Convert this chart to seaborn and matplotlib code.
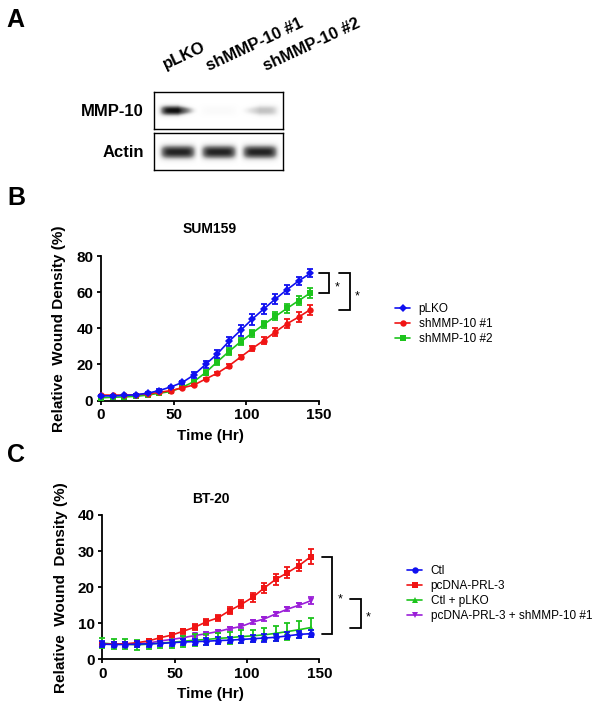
import numpy as np
import pandas as pd
import matplotlib
matplotlib.use("Agg")
import matplotlib.pyplot as plt
from matplotlib.lines import Line2D
import seaborn as sns

# ---------------- data ----------------
lanes = ["pLKO", "shMMP-10 #1", "shMMP-10 #2"]
mmp10_band = [0.95, 0.04, 0.35]
actin_band = [0.88, 0.88, 0.88]

time_hr = [0, 8, 16, 24, 32, 40, 48, 56, 64, 72, 80, 88, 96, 104, 112, 120, 128, 136, 144]

# panel B - SUM159
sum159_plko = [2.5, 2.6, 2.8, 3.2, 4.0, 5.5, 7.5, 10.0, 14.2, 20.0, 25.8, 32.7, 38.8, 45.0, 50.7, 56.2, 61.4, 66.2, 70.4]
sum159_plko_err = [0.5, 0.5, 0.5, 0.5, 0.6, 0.7, 0.8, 1.0, 1.5, 2.0, 2.3, 2.7, 3.0, 3.0, 3.0, 2.8, 2.6, 2.4, 2.2]
sum159_sh1 = [3.0, 3.0, 3.0, 3.2, 3.6, 4.5, 5.5, 7.0, 8.6, 11.9, 15.1, 19.2, 24.0, 28.8, 33.2, 38.0, 42.5, 46.2, 50.3]
sum159_sh1_err = [0.3, 0.3, 0.3, 0.3, 0.3, 0.4, 0.4, 0.5, 0.6, 0.7, 0.8, 1.0, 1.2, 1.5, 1.8, 2.2, 2.5, 2.6, 2.8]
sum159_sh2 = [1.5, 1.8, 2.0, 2.3, 3.0, 4.0, 5.0, 7.3, 10.5, 15.5, 21.4, 27.1, 32.5, 37.3, 42.1, 46.6, 51.0, 55.3, 59.5]
sum159_sh2_err = [0.3, 0.3, 0.3, 0.3, 0.4, 0.5, 0.6, 0.8, 1.0, 1.2, 1.5, 1.7, 1.9, 2.0, 2.1, 2.3, 2.5, 2.6, 2.8]

# panel C - BT-20
bt20_ctl = [4.2, 4.1, 4.1, 4.2, 4.3, 4.4, 4.6, 4.8, 4.9, 5.0, 5.2, 5.3, 5.5, 5.7, 5.9, 6.1, 6.5, 6.9, 7.1]
bt20_ctl_err = [0.8, 0.8, 0.8, 0.8, 0.8, 0.8, 0.8, 0.8, 0.8, 0.9, 0.9, 0.9, 0.9, 0.9, 1.0, 1.0, 1.0, 1.0, 1.0]
bt20_prl3 = [4.3, 4.2, 4.3, 4.6, 5.1, 6.0, 6.7, 7.8, 8.9, 10.4, 11.5, 13.5, 15.2, 17.2, 19.8, 22.2, 24.0, 26.0, 28.4]
bt20_prl3_err = [0.5, 0.5, 0.5, 0.5, 0.5, 0.5, 0.6, 0.7, 0.8, 0.8, 0.9, 1.0, 1.1, 1.2, 1.3, 1.5, 1.6, 1.5, 2.1]
bt20_ctl_plko = [4.5, 4.2, 4.2, 4.0, 4.2, 4.5, 4.7, 5.0, 5.3, 5.5, 5.8, 6.0, 6.3, 6.5, 6.8, 7.2, 7.7, 8.2, 8.8]
bt20_ctl_plko_err = [1.5, 1.4, 1.4, 1.4, 1.4, 1.5, 1.5, 1.5, 1.6, 1.6, 1.6, 1.7, 1.7, 1.7, 1.8, 2.0, 2.3, 2.4, 2.7]
bt20_prl3_sh1 = [4.3, 4.2, 4.2, 4.3, 4.5, 5.1, 5.5, 6.0, 6.6, 7.1, 7.7, 8.5, 9.1, 10.3, 11.2, 12.6, 13.9, 15.0, 16.2]
bt20_prl3_sh1_err = [0.4, 0.4, 0.4, 0.4, 0.4, 0.4, 0.4, 0.4, 0.4, 0.4, 0.4, 0.4, 0.5, 0.5, 0.5, 0.5, 0.6, 0.6, 1.0]

BLUE, RED, GREEN, PURPLE = "#1010F0", "#F01414", "#1CC41C", "#9B1FD8"

W, H = 604, 717


def rect(left, top, right, bottom):
    """pixel box (from top-left) -> figure fraction rect"""
    return [left / W, 1 - bottom / H, (right - left) / W, (bottom - top) / H]


def fx(x):
    return x / W


def fy(y):
    return 1 - y / H


sns.set_theme(style="ticks")
plt.rcParams["font.family"] = ["Liberation Sans", "DejaVu Sans"]
plt.rcParams.update({
    "axes.edgecolor": "black",
    "xtick.color": "black",
    "ytick.color": "black",
    "text.color": "black",
    "axes.labelcolor": "black",
})

fig = plt.figure(figsize=(W / 100, H / 100), dpi=100)
fig.patch.set_facecolor("white")

# ---------------- panel A: blot ----------------
LANE_X = [24, 65, 106]
LANE_W = 35


def blot_image(intensity, skew, cy, half_h, width=129, height=37, scale=4):
    xs = (np.arange(width * scale) + 0.5) / scale
    ys = (np.arange(height * scale) + 0.5) / scale
    X, Y = np.meshgrid(xs, ys)
    img = np.zeros_like(X)
    for cx, a, s in zip(LANE_X, intensity, skew):
        u = (X - cx) / (LANE_W / 2)
        wgt = np.clip(1 + s * u, 0.05, 1.0)
        hor = np.exp(-np.abs(u) ** 6)
        thick = half_h * (0.4 + 0.6 * wgt)
        ver = np.exp(-np.abs((Y - cy) / thick) ** 2.5)
        img = np.maximum(img, a * hor * ver * wgt)
    return img


blots = [
    ("MMP-10", mmp10_band, [-0.75, 0.0, 0.8], 19.5, 5.0, (154, 92, 283, 128.5)),
    ("Actin", actin_band, [0.0, 0.0, 0.0], 19.0, 7.0, (154, 133, 283, 170)),
]
for name, vals, skew, cy, hh, box in blots:
    bax = fig.add_axes(rect(*box))
    bax.imshow(blot_image(vals, skew, cy, hh), cmap="Greys", vmin=0, vmax=1,
               aspect="auto", interpolation="bilinear", extent=(0, 129, 37, 0))
    bax.set_xticks([])
    bax.set_yticks([])
    for sp in bax.spines.values():
        sp.set_visible(True)
        sp.set_linewidth(1.0)
        sp.set_color("black")
    fig.text(fx(144), fy((box[1] + box[3]) / 2 + 1), name, ha="right", va="center",
             fontsize=12, fontweight="bold")

lane_anchor = [(166, 69), (209, 71), (266, 71)]
for lab, (x, y) in zip(lanes, lane_anchor):
    fig.text(fx(x), fy(y), lab, rotation=25, rotation_mode="anchor", ha="left",
             va="baseline", fontsize=12, fontweight="bold")

# panel letters
for letter, (x, y) in zip("ABC", [(6, 26.7), (7, 205), (7, 462)]):
    fig.text(fx(x), fy(y), letter, fontsize=18, fontweight="bold", ha="left", va="baseline")


# ---------------- panels B and C ----------------
def draw_panel(ax, series, ymax, yticks, title, title_pad, ylabel):
    rows = []
    for label, vals, errs, color, marker, ms in series:
        for t, v in zip(time_hr, vals):
            rows.append({"time": t, "value": v, "group": label})
    df = pd.DataFrame(rows)
    order = [s[0] for s in series]
    sns.lineplot(data=df, x="time", y="value", hue="group", style="group",
                 hue_order=order, style_order=order,
                 palette={s[0]: s[3] for s in series},
                 markers={s[0]: s[4] for s in series}, dashes=False,
                 errorbar=None, legend=False, linewidth=1.2, markersize=5,
                 markeredgewidth=0, ax=ax)
    n = len(series)
    for i, line in enumerate(ax.lines):
        line.set_zorder(10 + (n - i) * 2)
        line.set_clip_on(False)
        line.set_markersize(series[i][5])
    for i, (label, vals, errs, color, marker, ms) in enumerate(series):
        eb = ax.errorbar(time_hr, vals, yerr=errs, fmt="none", ecolor=color,
                         elinewidth=1.3, capsize=2.3, capthick=1.3,
                         zorder=9 + (n - i) * 2)
        for art in list(eb.lines[1]) + list(eb.lines[2]):
            art.set_clip_on(False)
    ax.set_xlim(0, 150)
    ax.set_ylim(0, ymax)
    ax.set_xticks([0, 50, 100, 150])
    ax.set_yticks(yticks)
    sns.despine(ax=ax)
    for sp in ("left", "bottom"):
        ax.spines[sp].set_linewidth(1.3)
    ax.tick_params(length=3, width=1.3, labelsize=11, pad=2.5)
    for lbl in ax.get_xticklabels() + ax.get_yticklabels():
        lbl.set_fontweight("bold")
    ax.set_xlabel("Time (Hr)", fontsize=11, fontweight="bold")
    ax.set_ylabel(ylabel, fontsize=11, fontweight="bold")
    ax.xaxis.set_label_coords(0.5, -0.195)
    ax.yaxis.set_label_coords(-0.16, 0.5)
    ax.set_title(title, fontsize=10, fontweight="bold", pad=title_pad)
    ax.set_facecolor("white")


def bracket(ax, y_top, y_bot, x0, x1):
    ax.plot([x0, x1, x1, x0], [y_top, y_top, y_bot, y_bot], color="black",
            lw=1.3, clip_on=False, solid_joinstyle="miter")
    ax.annotate("*", xy=(x1, (y_top + y_bot) / 2), xytext=(5.5, -5.5),
                textcoords="offset points", ha="center", va="baseline",
                fontsize=9, annotation_clip=False)


def add_legend(series, x, y):
    handles = [Line2D([], [], color=c, marker=m, markersize=ms, markeredgewidth=0, lw=1.2)
               for _, _, _, c, m, ms in series]
    fig.legend(handles, [s[0] for s in series], loc="upper left",
               bbox_to_anchor=(fx(x), fy(y)), frameon=False, borderpad=0,
               borderaxespad=0, handlelength=1.3, handletextpad=0.7,
               labelspacing=0.25, fontsize=8.5)


series_b = [
    ("pLKO", sum159_plko, sum159_plko_err, BLUE, "D", 3.8),
    ("shMMP-10 #1", sum159_sh1, sum159_sh1_err, RED, "o", 4.6),
    ("shMMP-10 #2", sum159_sh2, sum159_sh2_err, GREEN, "s", 4.8),
]
axb = fig.add_axes(rect(101, 256, 319, 400.5))
draw_panel(axb, series_b, 80, [0, 20, 40, 60, 80], "SUM159", 16.5,
           "Relative  Wound Density (%)")
bracket(axb, sum159_plko[-1], sum159_sh2[-1], 150, 157)
bracket(axb, sum159_plko[-1], sum159_sh1[-1], 164, 171)
add_legend(series_b, 395, 303)

series_c = [
    ("Ctl", bt20_ctl, bt20_ctl_err, BLUE, "o", 4.6),
    ("pcDNA-PRL-3", bt20_prl3, bt20_prl3_err, RED, "s", 4.8),
    ("Ctl + pLKO", bt20_ctl_plko, bt20_ctl_plko_err, GREEN, "^", 5.0),
    ("pcDNA-PRL-3 + shMMP-10 #1", bt20_prl3_sh1, bt20_prl3_sh1_err, PURPLE, "v", 5.0),
]
axc = fig.add_axes(rect(102.3, 515, 319.3, 659.3))
draw_panel(axc, series_c, 40, [0, 10, 20, 30, 40], "BT-20", 8.3,
           "Relative  Wound  Density (%)")
bracket(axc, bt20_prl3[-1], bt20_ctl[-1], 152, 159)
bracket(axc, bt20_prl3_sh1[-1] + 0.6, bt20_ctl_plko[-1], 171, 178.5)
add_legend(series_c, 407, 565)

fig.savefig("out.png", dpi=100, facecolor="white")
